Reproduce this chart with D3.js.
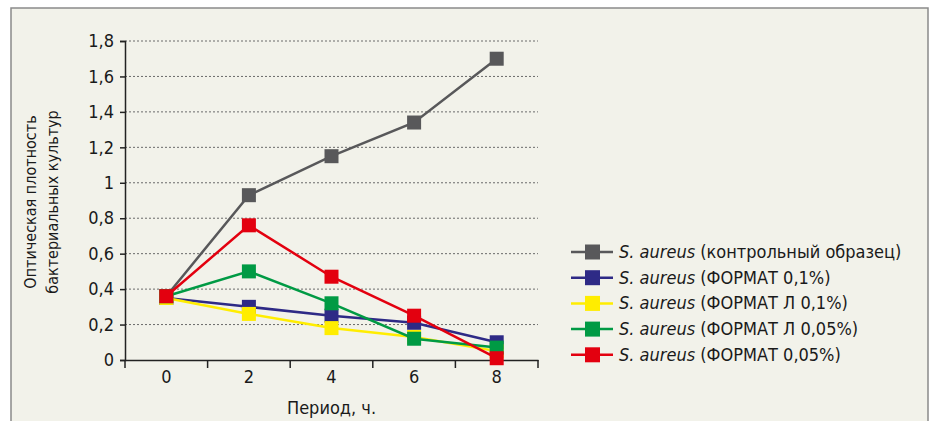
<!DOCTYPE html>
<html>
<head>
<meta charset="utf-8">
<script src="https://cdn.jsdelivr.net/npm/d3@7"></script>
<style>
  body { margin: 0; background: #fff; }
  svg text { font-family: "Liberation Sans Narrow", "DejaVu Sans Condensed", "Roboto", sans-serif; fill: #1a1a1a; }
</style>
</head>
<body>
<div class="content"></div>
<script>
var periods = ['0', '2', '4', '6', '8'];
var yTicks = [0, 0.2, 0.4, 0.6, 0.8, 1, 1.2, 1.4, 1.6, 1.8];

var control  = [0.36, 0.93, 1.15, 1.34, 1.70];
var format01 = [0.35, 0.30, 0.25, 0.21, 0.10];
var formatL01 = [0.35, 0.26, 0.18, 0.13, 0.05];
var formatL005 = [0.36, 0.50, 0.32, 0.12, 0.07];
var format005 = [0.36, 0.76, 0.47, 0.25, 0.01];

var seriesNames = ['(контрольный образец)', '(ФОРМАТ 0,1%)', '(ФОРМАТ Л 0,1%)', '(ФОРМАТ Л 0,05%)', '(ФОРМАТ 0,05%)'];
var seriesColors = ['#58585a', '#2e2a86', '#ffed00', '#009a44', '#e3000f'];

var series = [control, format01, formatL01, formatL005, format005].map(function(v, i) {
    return { name: seriesNames[i], color: seriesColors[i], values: v };
});

var chart = {
    width: 931,
    height: 421,
    left: 125,
    right: 538,
    top: 41,
    bottom: 360,
    markerSize: 14
};

var svg = d3.select('.content').append('svg')
    .attr('width', chart.width)
    .attr('height', chart.height);

// frame
svg.append('rect')
    .attr('x', 11).attr('y', 8)
    .attr('width', 917).attr('height', 430)
    .attr('fill', '#f2f2ea')
    .attr('stroke', '#8a8a8a')
    .attr('stroke-width', 1.5);

var x = d3.scaleBand().domain(periods).range([chart.left, chart.right]);
var y = d3.scaleLinear().domain([0, 1.8]).range([chart.bottom, chart.top]);

// grid
svg.append('g').selectAll('line')
    .data(yTicks.filter(function(d) { return d > 0; }))
    .enter().append('line')
    .attr('x1', chart.left).attr('x2', chart.right)
    .attr('y1', function(d) { return y(d); })
    .attr('y2', function(d) { return y(d); })
    .attr('stroke', '#6a6a6a')
    .attr('stroke-width', 1)
    .attr('stroke-dasharray', '2,2');

var fmt = function(d) { return String(d).replace('.', ','); };

var yAxis = svg.append('g')
    .attr('transform', 'translate(' + chart.left + ',0)')
    .call(d3.axisLeft(y).tickValues(yTicks).tickFormat(fmt).tickSize(5).tickPadding(6));
yAxis.select('.domain').attr('stroke', '#222').attr('stroke-width', 1.5);
yAxis.selectAll('.tick line').attr('stroke', '#222').attr('stroke-width', 1.5);
yAxis.selectAll('text').style('font-size', '18px').attr('fill', '#1a1a1a');

var xAxis = svg.append('g')
    .attr('transform', 'translate(0,' + chart.bottom + ')')
    .call(d3.axisBottom(x).tickSize(0).tickPadding(10));
xAxis.select('.domain').attr('stroke', '#222').attr('stroke-width', 1.5);
xAxis.selectAll('text').style('font-size', '18px').attr('fill', '#1a1a1a');

// ticks between categories
var edges = periods.map(function(p) { return x(p); }).concat([chart.right]);
xAxis.selectAll('.edge').data(edges).enter().append('line')
    .attr('x1', function(d) { return d; }).attr('x2', function(d) { return d; })
    .attr('y1', 0).attr('y2', 8)
    .attr('stroke', '#222').attr('stroke-width', 1.5);

// axis titles
svg.append('text')
    .attr('x', (chart.left + chart.right) / 2).attr('y', 414)
    .attr('text-anchor', 'middle')
    .style('font-size', '18px')
    .text('Период, ч.');

var yTitle = svg.append('text')
    .attr('transform', 'translate(0,202) rotate(-90)')
    .attr('text-anchor', 'middle')
    .style('font-size', '16px');
yTitle.append('tspan').attr('x', 0).attr('y', 36).text('Оптическая плотность');
yTitle.append('tspan').attr('x', 0).attr('y', 58).text('бактериальных культур');

// lines and markers
var line = d3.line()
    .x(function(d, i) { return x(periods[i]) + x.bandwidth() / 2; })
    .y(function(d) { return y(d); });

var g = svg.append('g');
series.forEach(function(s) {
    g.append('path')
        .attr('d', line(s.values))
        .attr('fill', 'none')
        .attr('stroke', s.color)
        .attr('stroke-width', 2.5);
    g.selectAll(null).data(s.values).enter().append('rect')
        .attr('x', function(d, i) { return x(periods[i]) + x.bandwidth() / 2 - chart.markerSize / 2; })
        .attr('y', function(d) { return y(d) - chart.markerSize / 2; })
        .attr('width', chart.markerSize)
        .attr('height', chart.markerSize)
        .attr('fill', s.color);
});

// legend
var legend = svg.append('g').attr('transform', 'translate(571,252)');
var rows = legend.selectAll('g').data(series).enter().append('g')
    .attr('transform', function(d, i) { return 'translate(0,' + (i * 25.7) + ')'; });
rows.append('line')
    .attr('x1', 0).attr('x2', 42).attr('y1', 0).attr('y2', 0)
    .attr('stroke', function(d) { return d.color; })
    .attr('stroke-width', 2.5);
rows.append('rect')
    .attr('x', 14).attr('y', -7.5).attr('width', 15).attr('height', 15)
    .attr('fill', function(d) { return d.color; });
var lt = rows.append('text')
    .attr('x', 48).attr('y', 6)
    .style('font-size', '18px');
lt.append('tspan').style('font-style', 'italic').text('S. aureus ');
lt.append('tspan').text(function(d) { return d.name; });
</script>
</body>
</html>
